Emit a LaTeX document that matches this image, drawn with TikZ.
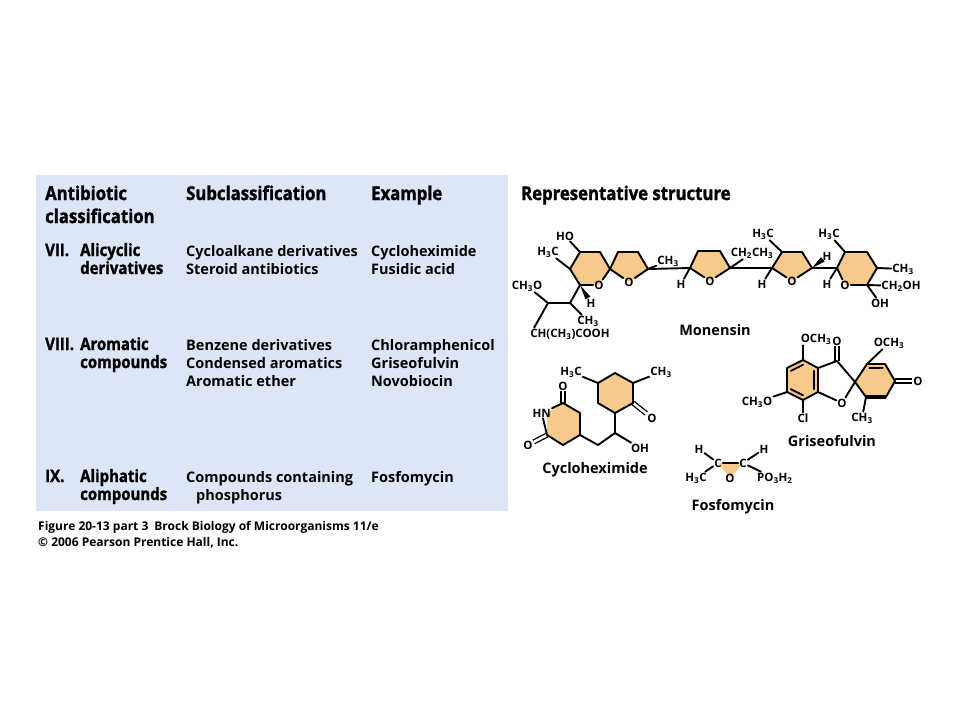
\documentclass[tikz,border=0pt]{standalone}
\usepackage{fontspec}
\setmainfont{Open Sans}
\newfontfamily\headfont[FakeStretch=0.88,FakeBold=1.4]{Open Sans}
\usetikzlibrary{calc}
\definecolor{tblblue}{RGB}{220,230,246}
\definecolor{ringtan}{RGB}{246,201,141}
\def\sub#1{\textsubscript{#1}}
\tikzset{hdr/.style={font=\headfont\bfseries\fontsize{19}{23}\selectfont, anchor=base west, align=left, inner sep=0pt}}
\tikzset{kind/.style={font=\headfont\bfseries\fontsize{17}{18}\selectfont, anchor=base west, align=left, inner sep=0pt}}
\tikzset{cell/.style={font=\bfseries\fontsize{14.5}{18}\selectfont, anchor=base west, align=left, inner sep=0pt}}
\tikzset{figcap/.style={font=\bfseries\fontsize{12}{16}\selectfont, anchor=base west, inner sep=0pt}}
\tikzset{molname/.style={font=\bfseries\fontsize{14.5}{16}\selectfont, anchor=base, inner sep=0pt}}
\tikzset{atom/.style={font=\bfseries\fontsize{11.5}{12}\selectfont, inner sep=1pt}}
\tikzset{bond/.style={line width=1.9pt, line cap=round, line join=round}}
\tikzset{dbl/.style={double=white, double distance=2.6pt, line width=1.3pt}}
\tikzset{ring/.style={fill=ringtan}}
\newcommand\wedgebond[2]{\fill ($(#1)!0.72!(#2)!2.8pt!90:(#2)$) -- (#1) -- ($(#1)!0.72!(#2)!2.8pt!-90:(#2)$) -- cycle;}
\begin{document}
\begin{tikzpicture}[x=1pt,y=-1pt]
\useasboundingbox (0,0) rectangle (960,720);
\fill[tblblue] (36,175) rectangle (508,511);
\node[hdr] (hclass) at (45,223) {Antibiotic\\classification};
\node[hdr] (hsub) at (186,200) {Subclassification};
\node[hdr] (hex) at (371,200) {Example};
\node[hdr] (hrep) at (521,200) {Representative structure};
\node[kind] (n7) at (45,256) {VII.};
\node[kind] (k7) at (80,274) {Alicyclic\\derivatives};
\node[cell] (s7) at (186,274) {Cycloalkane derivatives\\Steroid antibiotics};
\node[cell] (e7) at (371,274) {Cycloheximide\\Fusidic acid};
\node[kind] (n8) at (45,350) {VIII.};
\node[kind] (k8) at (80,368) {Aromatic\\compounds};
\node[cell] (s8) at (186,386) {Benzene derivatives\\Condensed aromatics\\Aromatic ether};
\node[cell] (e8) at (371,386) {Chloramphenicol\\Griseofulvin\\Novobiocin};
\node[kind] (n9) at (45,482) {IX.};
\node[kind] (k9) at (80,500) {Aliphatic\\compounds};
\node[cell] (s9) at (186,500) {Compounds containing\\\hspace*{10pt}phosphorus};
\node[cell] (e9) at (371,482) {Fosfomycin};
\node[figcap] (cap1) at (38,530) {Figure 20-13 part 3\enspace Brock Biology of Microorganisms 11/e};
\node[figcap] (cap2) at (38,546) {\textcopyright\ 2006 Pearson Prentice Hall, Inc.};
% Monensin
\coordinate (a1) at (580,252); \coordinate (a2) at (600,252); \coordinate (a3) at (610,269);
\coordinate (a4) at (599,285); \coordinate (a5) at (580,285); \coordinate (a6) at (570,269);
\coordinate (b1) at (618,252); \coordinate (b2) at (638,252); \coordinate (b3) at (648,269); \coordinate (b4) at (629,282);
\coordinate (c1) at (690,268); \coordinate (c2) at (698,251); \coordinate (c3) at (720,251); \coordinate (c4) at (730,268); \coordinate (c5) at (710,281);
\coordinate (d1) at (772,268); \coordinate (d2) at (782,252); \coordinate (d3) at (802,252); \coordinate (d4) at (812,268); \coordinate (d5) at (792,281);
\coordinate (e1) at (837,268); \coordinate (e2) at (845,252); \coordinate (e3) at (867,252); \coordinate (e4) at (877,268); \coordinate (e5) at (867,285); \coordinate (e6) at (845,285);
\coordinate (s1) at (570,303); \coordinate (s2) at (548,303);
\fill[ring] (a1)--(a2)--(a3)--(a4)--(a5)--(a6)--cycle;
\fill[ring] (a3)--(b1)--(b2)--(b3)--(b4)--cycle;
\fill[ring] (c1)--(c2)--(c3)--(c4)--(c5)--cycle;
\fill[ring] (d1)--(d2)--(d3)--(d4)--(d5)--cycle;
\fill[ring] (e1)--(e2)--(e3)--(e4)--(e5)--(e6)--cycle;
\node[atom] (oA) at (a4) {O};
\node[atom] (oB) at (b4) {O};
\node[atom] (oC) at (c5) {O};
\node[atom] (oD) at (d5) {O};
\node[atom] (oE) at (e6) {O};
\node[atom] (ho) at (565,236) {HO};
\node[atom] (mA) at (548,252) {H\sub{3}C};
\node[atom] (hA) at (591,303) {H};
\node[atom] (meo) at (527,286) {CH\sub{3}O};
\node[atom] (mS) at (588,321) {CH\sub{3}};
\node[atom] (acid) at (570,334) {CH(CH\sub{3})COOH};
\node[atom] (mB) at (668,261) {CH\sub{3}};
\node[atom] (hC) at (681,284) {H};
\node[atom] (et) at (752,253) {CH\sub{2}CH\sub{3}};
\node[atom] (hD) at (762,284) {H};
\node[atom] (mD) at (763,234) {H\sub{3}C};
\node[atom] (hD2) at (827,256) {H};
\node[atom] (hE) at (827,284) {H};
\node[atom] (mE) at (829,234) {H\sub{3}C};
\node[atom] (mE2) at (903,269) {CH\sub{3}};
\node[atom] (ch2oh) at (901,286) {CH\sub{2}OH};
\node[atom] (ohE) at (880,303) {OH};
\node[molname] (monensin) at (715,335) {Monensin};
\draw[bond] (oA)--(a5)--(a6)--(a1)--(a2)--(a3)--(oA);
\draw[bond] (oB)--(a3)--(b1)--(b2)--(b3)--(oB);
\draw[bond] (oC)--(c1)--(c2)--(c3)--(c4)--(oC);
\draw[bond] (oD)--(d1)--(d2)--(d3)--(d4)--(oD);
\draw[bond] (oE)--(e1)--(e2)--(e3)--(e4)--(e5)--(oE);
\draw[bond] (b3)--(c1) (c4)--(d1) (d4)--(e1);
\draw[bond] (a1)--(ho) (a6)--(mA) (a5)--(s1)--(s2) (s1)--(mS) (s2)--(meo);
\draw[bond] (s2)--([xshift=5pt]acid.north west);
\draw[bond] (b3)--(mB) (c1)--(hC) (c4)--(et) (d1)--(hD) (d2)--(mD);
\draw[bond] (e1)--(hE) (e2)--(mE) (e4)--(mE2) (e5)--(ch2oh) (e5)--(ohE);
\wedgebond{a5}{hA}
\wedgebond{d4}{hD2}
% Cycloheximide
\coordinate (r1) at (615,373); \coordinate (r2) at (633,383); \coordinate (r3) at (633,403);
\coordinate (r4) at (615,413); \coordinate (r5) at (598,403); \coordinate (r6) at (598,383);
\coordinate (p0) at (547,413); \coordinate (p1) at (563,403); \coordinate (p2) at (580,413);
\coordinate (p3) at (580,435); \coordinate (p4) at (563,445); \coordinate (p5) at (547,435);
\coordinate (q1) at (615,433); \coordinate (q2) at (598,445);
\fill[ring] (r1)--(r2)--(r3)--(r4)--(r5)--(r6)--cycle;
\fill[ring] (p0)--(p1)--(p2)--(p3)--(p4)--(p5)--cycle;
\node[atom, anchor=east] (hn) at (552,413) {HN};
\node[atom] (oP1) at (563,386) {O};
\node[atom] (oP5) at (528,445) {O};
\node[atom] (oR) at (652,418) {O};
\node[atom] (mR1) at (571,372) {H\sub{3}C};
\node[atom] (mR2) at (661,372) {CH\sub{3}};
\node[atom] (ohR) at (640,448) {OH};
\node[molname] (cyclo) at (595,473) {Cycloheximide};
\draw[dbl] (p1)--(oP1);
\draw[dbl] (p5)--(oP5);
\draw[dbl] (r3)--(oR);
\draw[bond] (r1)--(r2)--(r3)--(r4)--(r5)--(r6)--cycle;
\draw[bond] (hn)--(p1)--(p2)--(p3)--(p4)--(p5)--(hn);
\draw[bond] (r6)--(mR1) (r2)--(mR2);
\draw[bond] (r4)--(q1)--(q2)--(p3) (q1)--(ohR);
% Griseofulvin
\coordinate (g1) at (803,360); \coordinate (g2) at (818,368); \coordinate (g3) at (818,392);
\coordinate (g4) at (803,400); \coordinate (g5) at (787,392); \coordinate (g6) at (787,368);
\coordinate (gc) at (803,380);
\coordinate (gk) at (837,361); \coordinate (gs) at (855,382); \coordinate (go) at (842,403);
\coordinate (h2) at (867,364); \coordinate (h3) at (885,364); \coordinate (h4) at (895,381);
\coordinate (h5) at (886,397); \coordinate (h6) at (866,397); \coordinate (hc) at (876,381);
\fill[ring] (g1)--(g2)--(g3)--(g4)--(g5)--(g6)--cycle;
\fill[ring] (gs)--(h2)--(h3)--(h4)--(h5)--(h6)--cycle;
\node[atom] (oG) at (go) {O};
\node[atom] (oK) at (837,341) {O};
\node[atom] (oH) at (918,381) {O};
\node[atom] (omA) at (816,339) {OCH\sub{3}};
\node[atom] (omB) at (889,343) {OCH\sub{3}};
\node[atom] (omC) at (757,402) {CH\sub{3}O};
\node[atom] (cl) at (803,418) {Cl};
\node[atom] (mG) at (862,418) {CH\sub{3}};
\node[molname] (gris) at (832,446) {Griseofulvin};
\draw[dbl] (gk)--(oK);
\draw[dbl] (h4)--(oH);
\draw[bond] (g1)--(g2)--(g3)--(g4)--(g5)--(g6)--cycle;
\draw[bond] ($(g6)!0.24!(gc)$)--($(g1)!0.24!(gc)$);
\draw[bond] ($(g2)!0.24!(gc)$)--($(g3)!0.24!(gc)$);
\draw[bond] ($(g4)!0.24!(gc)$)--($(g5)!0.24!(gc)$);
\draw[bond] (g2)--(gk)--(gs)--(oG)--(g3);
\draw[bond] (gs)--(h2)--(h3)--(h4)--(h5) (h6)--(gs);
\draw[bond, line width=3.8pt, line cap=butt] (h6)--(h5);
\draw[bond] ($(h2)!0.26!(hc)$)--($(h3)!0.26!(hc)$);
\draw[bond] (g1)--(g1 |- omA.south) (h2)--(omB) (g5)--(omC) (g4)--(cl) (h6)--(mG);
% Fosfomycin
\coordinate (f1) at (718,463); \coordinate (f2) at (743,463); \coordinate (f3) at (730,478);
\fill[ring] (f1)--(f2)--(f3)--cycle;
\node[atom] (fc1) at (f1) {C};
\node[atom] (fc2) at (f2) {C};
\node[atom] (fo) at (f3) {O};
\node[atom] (fh1) at (699,449) {H};
\node[atom] (fm) at (696,478) {H\sub{3}C};
\node[atom] (fh2) at (764,449) {H};
\node[atom, anchor=west] (fp) at (756,478) {PO\sub{3}H\sub{2}};
\node[molname] (fosfo) at (733,510) {Fosfomycin};
\draw[bond] (fc1)--(fc2);
\draw[bond] (fc1)--(fh1) (fc1)--(fm) (fc2)--(fh2) (fc2)--([xshift=5pt]fp.north west);
\end{tikzpicture}
\end{document}
